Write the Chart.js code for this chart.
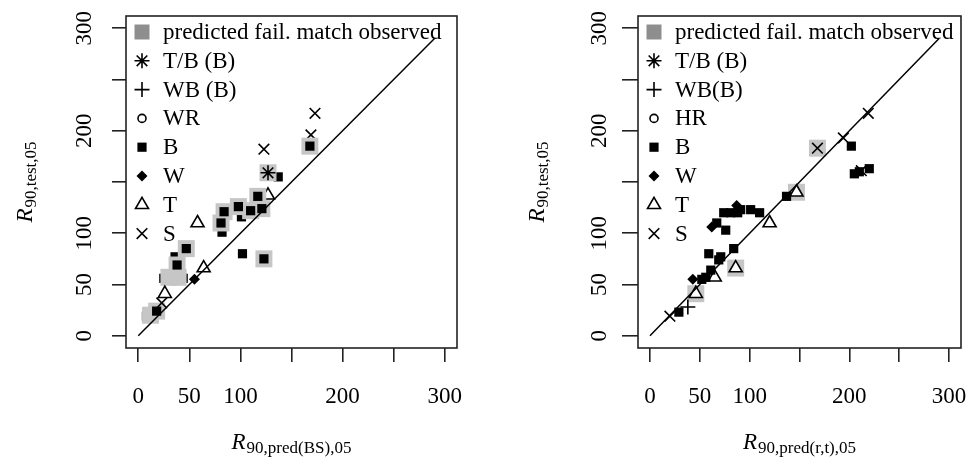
<!DOCTYPE html>
<html>
<head>
<meta charset="utf-8">
<script src="https://cdn.jsdelivr.net/npm/chart.js@4.4.1/dist/chart.umd.min.js"></script>
<style>
  html, body { margin: 0; padding: 0; background: #fff; }
  #wrap { position: relative; width: 973px; height: 463px; }
  .plot { position: absolute; top: 0; height: 463px; }
</style>
</head>
<body>
<div id="wrap">
  <div class="plot" style="left:0;width:486px"><canvas id="left" width="486" height="463"></canvas></div>
  <div class="plot" style="left:486px;width:487px"><canvas id="right" width="487" height="463"></canvas></div>
</div>
<script>
// axis ticks (R drops the 150 / 250 labels)
const tickValues = [0, 50, 100, 150, 200, 250, 300];
const tickLabels = ['0', '50', '100', '', '200', '', '300'];
const diagonal = [[0, 0], [290, 290]];

// left panel: R90,pred(BS),05 vs R90,test,05
const bsTB = [[127, 159]];
const bsWB = [];
const bsWR = [];
const bsB = [[102, 80], [117, 136], [121, 124], [110, 122], [98, 126], [84, 121], [81, 110],
             [123, 75], [47, 85], [38, 69], [18, 24], [168, 185]];
const bsW = [[55, 55]];
const bsT = [[58, 110], [64, 66], [26, 41]];
const bsS = [[173, 217], [123, 182], [23, 32]];
// points partly covered by the grey boxes of neighbours
const bsBUnder = [[137, 155], [82, 101], [101, 116], [25, 56], [44, 56], [36, 77], [8, 19]];
const bsTUnder = [[127, 137]];
const bsSUnder = [[169, 196]];
const bsMatch = [[127, 159], [117, 136], [121, 124], [110, 122], [98, 126], [84, 121], [81, 110],
                 [123, 75], [47, 85], [38, 69], [18, 24], [12, 20], [30, 57], [39, 57], [168, 185]];

// right panel: R90,pred(r,t),05 vs R90,test,05
const rtTB = [];
const rtWB = [[38, 28]];
const rtHR = [];
const rtB = [[29, 23], [52, 55], [56, 57], [61, 64], [69, 74], [71, 77], [59, 80], [84, 85],
             [67, 110], [76, 103], [74, 120], [81, 120], [88, 120], [91, 123], [101, 123], [110, 120],
             [137, 136], [202, 185], [205, 158], [220, 163], [210, 160]];
const rtW = [[43, 55], [62, 106], [87, 127]];
const rtT = [[46, 41], [65, 57], [86, 66], [120, 110], [147, 140]];
const rtS = [[20, 19], [168, 183], [194, 193], [219, 217], [212, 161]];
const rtMatch = [[46, 41], [86, 66], [147, 140], [168, 183]];

const legendLeft = ['predicted fail. match observed', 'T/B (B)', 'WB (B)', 'WR', 'B', 'W', 'T', 'S'];
const legendRight = ['predicted fail. match observed', 'T/B (B)', 'WB(B)', 'HR', 'B', 'W', 'T', 'S'];

const FONT = '"Liberation Serif", "Times New Roman", serif';

const markers = {
  match: { pointStyle: 'rect', radius: 12, fill: '#c6c6c6', stroke: '#c6c6c6', width: 0 },
  TB: { pointStyle: 'star', radius: 7.5, fill: '#000', stroke: '#000', width: 1.6 },
  WB: { pointStyle: 'cross', radius: 7.5, fill: '#000', stroke: '#000', width: 1.6 },
  WR: { pointStyle: 'circle', radius: 4, fill: '#fff', stroke: '#000', width: 1.6 },
  B: { pointStyle: 'rect', radius: 6.5, fill: '#000', stroke: '#000', width: 0 },
  W: { pointStyle: 'rectRot', radius: 5.5, fill: '#000', stroke: '#000', width: 0 },
  T: { pointStyle: 'triangle', radius: 7.5, fill: '#fff', stroke: '#000', width: 1.6 },
  S: { pointStyle: 'crossRot', radius: 7.5, fill: '#000', stroke: '#000', width: 1.6 },
};
const legendMarkers = ['matchLegend', 'TB', 'WB', 'WR', 'B', 'W', 'T', 'S'];
markers.matchLegend = { pointStyle: 'rect', radius: 10.6, fill: '#8e8e8e', stroke: '#8e8e8e', width: 0 };

function pts(arr) {
  return arr.map(p => ({ x: p[0], y: p[1] }));
}

function ds(arr, key, order) {
  const m = markers[key];
  return {
    data: pts(arr),
    order: order,
    showLine: false,
    pointStyle: m.pointStyle,
    pointRadius: m.radius,
    pointBackgroundColor: m.fill,
    pointBorderColor: m.stroke,
    pointBorderWidth: m.width,
  };
}

function drawRSub(ctx, cx, baseY, sub) {
  ctx.font = 'italic 23px ' + FONT;
  const w1 = ctx.measureText('R').width;
  ctx.font = '17px ' + FONT;
  const w2 = ctx.measureText(sub).width;
  const x0 = cx - (w1 + w2 + 1) / 2;
  ctx.textAlign = 'left';
  ctx.textBaseline = 'alphabetic';
  ctx.font = 'italic 23px ' + FONT;
  ctx.fillText('R', x0, baseY);
  ctx.font = '17px ' + FONT;
  ctx.fillText(sub, x0 + w1 + 1, baseY + 4);
}

const rFrame = {
  id: 'rframe',
  afterDraw(chart, args, opts) {
    const ctx = chart.ctx;
    const a = chart.chartArea;
    const sx = chart.scales.x, sy = chart.scales.y;
    ctx.save();
    // box
    ctx.strokeStyle = '#222';
    ctx.lineWidth = 1.6;
    ctx.strokeRect(a.left, a.top, a.right - a.left, a.bottom - a.top);

    // tick labels
    ctx.fillStyle = '#000';
    ctx.font = '23px ' + FONT;
    ctx.textAlign = 'center';
    ctx.textBaseline = 'alphabetic';
    tickValues.forEach((v, i) => {
      if (!tickLabels[i]) return;
      ctx.fillText(tickLabels[i], sx.getPixelForValue(v), a.bottom + 55);
    });
    tickValues.forEach((v, i) => {
      if (!tickLabels[i]) return;
      ctx.save();
      ctx.translate(a.left - opts.yLabelOff, sy.getPixelForValue(v));
      ctx.rotate(-Math.PI / 2);
      ctx.fillText(tickLabels[i], 0, 0);
      ctx.restore();
    });

    // axis titles
    drawRSub(ctx, (a.left + a.right) / 2, 449, opts.xSub);
    ctx.save();
    ctx.translate(a.left - 94, (a.top + a.bottom) / 2);
    ctx.rotate(-Math.PI / 2);
    drawRSub(ctx, 0, 0, opts.ySub);
    ctx.restore();

    // legend
    opts.legend.forEach((txt, i) => {
      const y = a.top + 16 + i * 28.8;
      const m = markers[legendMarkers[i]];
      ctx.fillStyle = m.fill;
      ctx.strokeStyle = m.stroke;
      ctx.lineWidth = m.width;
      Chart.helpers.drawPoint(ctx, { pointStyle: m.pointStyle, radius: m.radius, rotation: 0, borderWidth: m.width },
        a.left + 16, y);
      ctx.fillStyle = '#000';
      ctx.font = '23px ' + FONT;
      ctx.textAlign = 'left';
      ctx.textBaseline = 'middle';
      ctx.fillText(txt, a.left + 37, y + 1);
    });
    ctx.restore();
  }
};

function axis(tickLen, fitProp) {
  return {
    type: 'linear',
    min: -12,
    max: 312,
    afterBuildTicks: s => { s.ticks = tickValues.map(v => ({ value: v })); },
    afterFit: s => { s[fitProp] = 0; },
    ticks: { display: false },
    grid: { drawOnChartArea: false, drawTicks: true, tickLength: tickLen, color: '#222', lineWidth: 1.6 },
    border: { display: false },
  };
}

function makeChart(id, sets, padding, opts) {
  return new Chart(document.getElementById(id), {
    type: 'scatter',
    data: { datasets: sets },
    options: {
      responsive: false,
      animation: false,
      devicePixelRatio: 1,
      events: [],
      layout: { padding: padding },
      scales: { x: axis(14, 'height'), y: axis(opts.yTick, 'width') },
      plugins: { legend: { display: false }, tooltip: { enabled: false }, rframe: opts },
    },
    plugins: [rFrame],
  });
}

function lineSet() {
  return {
    data: pts(diagonal),
    order: 0,
    showLine: true,
    borderColor: '#000',
    borderWidth: 1.5,
    pointRadius: 0,
  };
}

makeChart('left', [
  lineSet(),
  ds(bsTB, 'TB', 1), ds(bsWB, 'WB', 1), ds(bsWR, 'WR', 1), ds(bsB, 'B', 1),
  ds(bsW, 'W', 1), ds(bsT, 'T', 1), ds(bsS, 'S', 1),
  ds(bsMatch, 'match', 5),
  ds(bsBUnder, 'B', 9), ds(bsTUnder, 'T', 9), ds(bsSUnder, 'S', 9),
], { left: 126, right: 29, top: 16, bottom: 115 },
  { xSub: '90,pred(BS),05', ySub: '90,test,05', legend: legendLeft, yLabelOff: 35, yTick: 14 });

makeChart('right', [
  lineSet(),
  ds(rtTB, 'TB', 1), ds(rtWB, 'WB', 1), ds(rtHR, 'WR', 1), ds(rtB, 'B', 1),
  ds(rtW, 'W', 1), ds(rtT, 'T', 1), ds(rtS, 'S', 1),
  ds(rtMatch, 'match', 5),
], { left: 152, right: 5, top: 16, bottom: 115 },
  { xSub: '90,pred(r,t),05', ySub: '90,test,05', legend: legendRight, yLabelOff: 32, yTick: 16 });
</script>
</body>
</html>
